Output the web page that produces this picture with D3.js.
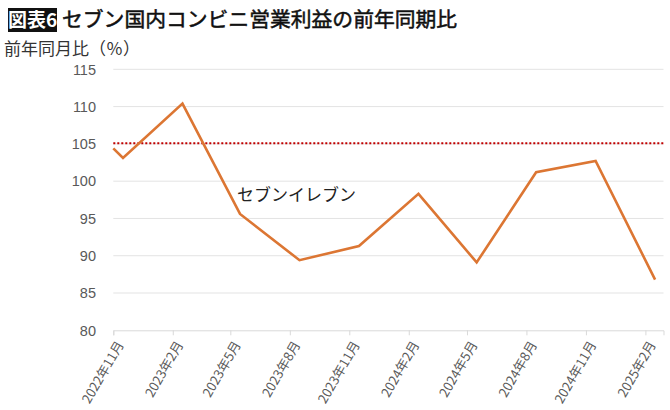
<!DOCTYPE html>
<html><head><meta charset="utf-8">
<script src="https://cdn.jsdelivr.net/npm/d3@7"></script>
<style>
body{margin:0;background:#fff;}
svg{display:block;font-family:"Noto Sans CJK JP","Noto Sans",sans-serif;}
</style></head>
<body><svg id="c" width="670" height="410"></svg>
<script>
const dates = ["2022-11-01","2022-11-16","2023-02-16","2023-05-16","2023-08-16","2023-11-16","2024-02-16","2024-05-16","2024-08-16","2024-11-16","2025-02-16"];
const values = [104.4, 103.1, 110.4, 95.6, 89.4, 91.3, 98.3, 89.1, 101.2, 102.7, 86.8];
const tickDates = ["2022-11-01","2023-02-01","2023-05-01","2023-08-01","2023-11-01","2024-02-01","2024-05-01","2024-08-01","2024-11-01","2025-02-01"];
const tickLabels = ["2022年11月","2023年2月","2023年5月","2023年8月","2023年11月","2024年2月","2024年5月","2024年8月","2024年11月","2025年2月"];
const yTicks = [80, 85, 90, 95, 100, 105, 110, 115];
const refValue = 105.1;
const seriesName = "セブンイレブン";
const titleBadge = "図表6";
const titleText = "セブン国内コンビニ営業利益の前年同期比";
const yAxisTitle = "前年同月比（％）";

const parse = d3.timeParse("%Y-%m-%d");
const svg = d3.select("#c");
const x = d3.scaleTime().domain([parse("2022-11-01"), parse("2025-03-01")]).range([113.3, 663.5]);
const y = d3.scaleLinear().domain([80, 115]).range([330.3, 69.3]);

// title
svg.append("rect").attr("x", 8).attr("y", 8).attr("width", 49).attr("height", 24).attr("fill", "#111");
svg.append("text").attr("x", 32.5).attr("y", 27).attr("text-anchor", "middle").attr("fill", "#fff")
  .attr("font-size", 19).attr("font-weight", 700).text(titleBadge);
svg.append("text").attr("x", 62).attr("y", 27).attr("fill", "#111")
  .attr("font-size", 20.8).attr("font-weight", 400).attr("stroke", "#111").attr("stroke-width", 0.5).text(titleText);
svg.append("text").attr("x", 4).attr("y", 55).attr("fill", "#333")
  .attr("font-size", 17).text(yAxisTitle);

// gridlines
svg.append("g").selectAll("line").data(yTicks.filter(d => d > 80)).join("line")
  .attr("x1", x.range()[0]).attr("x2", x.range()[1])
  .attr("y1", d => y(d)).attr("y2", d => y(d))
  .attr("stroke", "#e3e3e3").attr("stroke-width", 1);

// y labels
svg.append("g").selectAll("text").data(yTicks).join("text")
  .attr("x", 96).attr("y", d => y(d)).attr("dy", "0.36em").attr("text-anchor", "end")
  .attr("font-family", "'Liberation Sans', Arial, sans-serif")
  .attr("fill", "#595959").attr("font-size", 14.5).text(d => d);

// x axis
const xa = svg.append("g").attr("transform", `translate(0,${y(80)})`)
  .call(d3.axisBottom(x).tickValues(tickDates.map(parse)).tickSize(5).tickFormat(""));
xa.select(".domain").attr("stroke", "#d9d9d9");
xa.selectAll(".tick line").attr("stroke", "#d9d9d9");
svg.append("g").selectAll("text").data(tickDates).join("text")
  .attr("transform", d => `translate(${x(parse(d)) + 7},${y(80) + 12}) rotate(-60)`)
  .attr("text-anchor", "end").attr("dy", "0.35em")
  .attr("fill", "#595959").attr("font-size", 13).text((d, i) => tickLabels[i]);

// reference dotted line
svg.append("line").attr("x1", x.range()[0]).attr("x2", x.range()[1])
  .attr("y1", y(refValue)).attr("y2", y(refValue))
  .attr("stroke", "#c00000").attr("stroke-width", 2).attr("stroke-dasharray", "2,2");

// series line
const pts = dates.map((d, i) => [parse(d), values[i]]);
svg.append("path").datum(pts)
  .attr("d", d3.line().x(d => x(d[0])).y(d => y(d[1])))
  .attr("fill", "none").attr("stroke", "#dc7633").attr("stroke-width", 2.6).attr("stroke-linejoin", "miter");

svg.append("text").attr("x", 237).attr("y", 201).attr("fill", "#222")
  .attr("font-size", 17).text(seriesName);
</script></body></html>
